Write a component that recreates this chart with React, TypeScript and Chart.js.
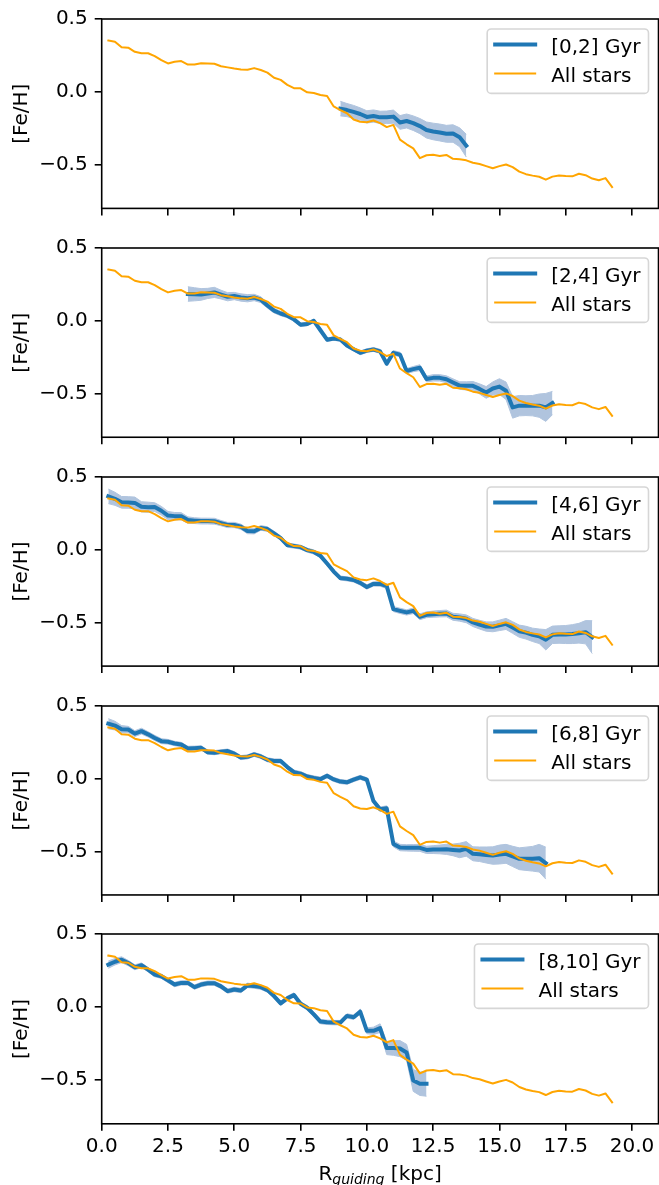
import React, { useEffect, useRef } from 'react';
import { Chart, registerables } from 'chart.js';

Chart.register(...registerables);

// Guiding radius grid (kpc), bin centres
const R_GRID = [
  0.25, 0.5, 0.75, 1.0, 1.25, 1.5, 1.75, 2.0, 2.25, 2.5, 2.75, 3.0, 3.25, 3.5, 3.75, 4.0,
  4.25, 4.5, 4.75, 5.0, 5.25, 5.5, 5.75, 6.0, 6.25, 6.5, 6.75, 7.0, 7.25, 7.5, 7.75, 8.0,
  8.25, 8.5, 8.75, 9.0, 9.25, 9.5, 9.75, 10.0, 10.25, 10.5, 10.75, 11.0, 11.25, 11.5, 11.75, 12.0,
  12.25, 12.5, 12.75, 13.0, 13.25, 13.5, 13.75, 14.0, 14.25, 14.5, 14.75, 15.0, 15.25, 15.5, 15.75, 16.0,
  16.25, 16.5, 16.75, 17.0, 17.25, 17.5, 17.75, 18.0, 18.25, 18.5, 18.75, 19.0, 19.25,
];

// [Fe/H] for all stars
const ALL_STARS = [
  0.352, 0.344, 0.306, 0.303, 0.275, 0.265, 0.265, 0.245, 0.218, 0.195, 0.206, 0.211, 0.187, 0.187, 0.196, 0.195,
  0.193, 0.176, 0.168, 0.160, 0.154, 0.152, 0.163, 0.150, 0.132, 0.097, 0.082, 0.048, 0.025, 0.024, -0.003, -0.008,
  -0.022, -0.028, -0.100, -0.125, -0.147, -0.190, -0.205, -0.209, -0.197, -0.215, -0.242, -0.227, -0.328, -0.360, -0.388, -0.455,
  -0.435, -0.432, -0.440, -0.433, -0.460, -0.463, -0.470, -0.487, -0.495, -0.510, -0.524, -0.510, -0.499, -0.517, -0.548, -0.565,
  -0.575, -0.583, -0.603, -0.582, -0.574, -0.578, -0.580, -0.562, -0.572, -0.595, -0.607, -0.592, -0.653,
];

const AGE_LABELS = ['[0,2] Gyr', '[2,4] Gyr', '[4,6] Gyr', '[6,8] Gyr', '[8,10] Gyr'];
const AGE_R_START = [9.0, 3.25, 0.25, 0.25, 0.25];

const FEH_0_2 = [
  -0.115, -0.125, -0.138, -0.152, -0.172, -0.166, -0.175, -0.175, -0.170, -0.210,
  -0.200, -0.215, -0.235, -0.262, -0.272, -0.279, -0.288, -0.286, -0.312, -0.369,
];
const ERR_0_2 = [
  0.050, 0.045, 0.045, 0.042, 0.042, 0.042, 0.042, 0.043, 0.045, 0.047,
  0.048, 0.050, 0.052, 0.055, 0.057, 0.058, 0.058, 0.060, 0.065, 0.078,
];

const FEH_2_4 = [
  0.184, 0.182, 0.181, 0.188, 0.195, 0.180, 0.165, 0.170, 0.160, 0.155, 0.160, 0.145,
  0.105, 0.070, 0.050, 0.035, 0.010, -0.027, -0.022, 0.000, -0.065, -0.130, -0.122, -0.129,
  -0.170, -0.195, -0.220, -0.205, -0.197, -0.210, -0.295, -0.220, -0.232, -0.345, -0.332, -0.322,
  -0.400, -0.392, -0.392, -0.402, -0.424, -0.445, -0.447, -0.447, -0.468, -0.492, -0.465, -0.452,
  -0.481, -0.595, -0.583, -0.583, -0.583, -0.583, -0.595, -0.565,
];
const ERR_2_4 = [
  0.050, 0.045, 0.040, 0.035, 0.035, 0.030, 0.028, 0.025, 0.025, 0.025, 0.022, 0.020,
  0.018, 0.016, 0.015, 0.014, 0.013, 0.012, 0.012, 0.012, 0.012, 0.012, 0.012, 0.012,
  0.012, 0.012, 0.013, 0.013, 0.013, 0.014, 0.015, 0.015, 0.016, 0.017, 0.018, 0.020,
  0.020, 0.022, 0.022, 0.024, 0.025, 0.026, 0.028, 0.030, 0.035, 0.040, 0.045, 0.054,
  0.060, 0.074, 0.070, 0.068, 0.070, 0.080, 0.096, 0.080,
];

const FEH_4_6 = [
  0.367, 0.350, 0.326, 0.325, 0.322, 0.295, 0.292, 0.293, 0.268, 0.235, 0.231, 0.230,
  0.204, 0.200, 0.197, 0.197, 0.196, 0.183, 0.170, 0.170, 0.158, 0.128, 0.127, 0.150,
  0.142, 0.112, 0.080, 0.032, 0.025, 0.018, -0.003, -0.015, -0.042, -0.095, -0.150, -0.195,
  -0.200, -0.208, -0.228, -0.256, -0.235, -0.235, -0.250, -0.408, -0.420, -0.431, -0.420, -0.461,
  -0.447, -0.443, -0.440, -0.438, -0.461, -0.466, -0.475, -0.500, -0.515, -0.528, -0.530, -0.520,
  -0.510, -0.535, -0.560, -0.570, -0.585, -0.595, -0.619, -0.585, -0.583, -0.583, -0.580, -0.574,
  -0.567, -0.601,
];
const ERR_4_6 = [
  0.050, 0.045, 0.040, 0.040, 0.040, 0.035, 0.035, 0.030, 0.030, 0.028, 0.025, 0.025,
  0.022, 0.020, 0.020, 0.020, 0.020, 0.018, 0.018, 0.018, 0.018, 0.018, 0.018, 0.016,
  0.016, 0.015, 0.015, 0.015, 0.014, 0.014, 0.014, 0.014, 0.014, 0.014, 0.014, 0.014,
  0.014, 0.014, 0.015, 0.015, 0.015, 0.016, 0.016, 0.017, 0.018, 0.018, 0.019, 0.020,
  0.020, 0.021, 0.022, 0.023, 0.024, 0.025, 0.027, 0.028, 0.030, 0.032, 0.034, 0.036,
  0.038, 0.040, 0.042, 0.044, 0.046, 0.050, 0.070, 0.060, 0.060, 0.062, 0.065, 0.068,
  0.080, 0.113,
];

const FEH_6_8 = [
  0.378, 0.365, 0.340, 0.338, 0.310, 0.327, 0.305, 0.280, 0.258, 0.254, 0.242, 0.235,
  0.208, 0.210, 0.212, 0.182, 0.179, 0.185, 0.190, 0.172, 0.145, 0.150, 0.167, 0.153,
  0.130, 0.122, 0.122, 0.080, 0.045, 0.035, 0.015, 0.005, -0.003, 0.020, -0.005, -0.020,
  -0.025, -0.007, 0.009, -0.007, -0.154, -0.211, -0.204, -0.449, -0.474, -0.476, -0.476, -0.476,
  -0.490, -0.488, -0.487, -0.486, -0.490, -0.494, -0.483, -0.517, -0.520, -0.525, -0.529, -0.522,
  -0.517, -0.535, -0.551, -0.551, -0.551, -0.547, -0.581,
];
const ERR_6_8 = [
  0.035, 0.030, 0.025, 0.022, 0.020, 0.020, 0.018, 0.018, 0.017, 0.016, 0.015, 0.015,
  0.015, 0.014, 0.014, 0.014, 0.014, 0.014, 0.014, 0.014, 0.014, 0.014, 0.014, 0.014,
  0.014, 0.014, 0.014, 0.014, 0.014, 0.014, 0.014, 0.014, 0.014, 0.014, 0.014, 0.014,
  0.014, 0.014, 0.014, 0.014, 0.015, 0.016, 0.017, 0.020, 0.022, 0.022, 0.023, 0.024,
  0.025, 0.027, 0.030, 0.035, 0.040, 0.050, 0.050, 0.048, 0.050, 0.055, 0.060, 0.065,
  0.065, 0.070, 0.075, 0.080, 0.085, 0.095, 0.110,
];

const FEH_8_10 = [
  0.290, 0.310, 0.324, 0.301, 0.272, 0.286, 0.256, 0.222, 0.211, 0.182, 0.154, 0.165,
  0.165, 0.136, 0.154, 0.163, 0.163, 0.141, 0.109, 0.120, 0.113, 0.148, 0.143, 0.136,
  0.116, 0.075, 0.025, 0.059, 0.082, 0.022, -0.005, -0.050, -0.100, -0.105, -0.107, -0.107,
  -0.061, -0.070, -0.032, -0.163, -0.163, -0.145, -0.281, -0.281, -0.285, -0.311, -0.503, -0.526,
  -0.526,
];
const ERR_8_10 = [
  0.025, 0.022, 0.020, 0.018, 0.017, 0.016, 0.015, 0.015, 0.015, 0.015, 0.015, 0.015,
  0.015, 0.015, 0.015, 0.015, 0.015, 0.015, 0.015, 0.015, 0.015, 0.015, 0.015, 0.015,
  0.015, 0.015, 0.015, 0.015, 0.015, 0.015, 0.015, 0.015, 0.015, 0.015, 0.015, 0.015,
  0.015, 0.015, 0.018, 0.020, 0.025, 0.030, 0.045, 0.050, 0.055, 0.055, 0.075, 0.080,
  0.085,
];

const AGE_FEH = [FEH_0_2, FEH_2_4, FEH_4_6, FEH_6_8, FEH_8_10];
const AGE_ERR = [ERR_0_2, ERR_2_4, ERR_4_6, ERR_6_8, ERR_8_10];

const X_TICKS = [0, 2.5, 5, 7.5, 10, 12.5, 15, 17.5, 20];
const Y_TICKS = [-0.5, 0, 0.5];
const X_RANGE = [0, 21];
const Y_RANGE = [-0.8, 0.5];

const FONT = '"DejaVu Sans", sans-serif';
const BLUE = '#1f77b4';
const ORANGE = '#ffa500';
const BAND = '#b0c4de';

const W = 659;
const PLOT_LEFT = 101.7;
const PLOT_RIGHT_PAD = 0.5;
const PLOT_H = 191.5;
const PANEL_TOP0 = 16.9;
const PANEL_STEP = 228.85;

const fmtY = (v: number) => (v < 0 ? '\u2212' : '') + Math.abs(v).toFixed(1);

function Panel({ index, canvasTop, height, padTop, showX }: any) {
  const ref = useRef<HTMLCanvasElement | null>(null);
  useEffect(() => {
    const canvas = ref.current;
    if (!canvas) return;
    const start = R_GRID.indexOf(AGE_R_START[index]);
    const vals = AGE_FEH[index];
    const errs = AGE_ERR[index];
    const agePts = vals.map((v, i) => ({ x: R_GRID[start + i], y: v }));
    const upPts = vals.map((v, i) => ({ x: R_GRID[start + i], y: v + errs[i] }));
    const loPts = vals.map((v, i) => ({ x: R_GRID[start + i], y: v - errs[i] }));
    const allPts = ALL_STARS.map((v, i) => ({ x: R_GRID[i], y: v }));
    const label = AGE_LABELS[index];

    const decor = {
      id: 'decor',
      afterDraw(chart: any) {
        const { ctx, chartArea: a } = chart;
        ctx.save();
        ctx.strokeStyle = '#000';
        ctx.lineWidth = 1.6;
        ctx.strokeRect(a.left, a.top, a.right - a.left, a.bottom - a.top);
        // legend
        ctx.font = `20px ${FONT}`;
        const tw = Math.max(ctx.measureText(label).width, ctx.measureText('All stars').width);
        const w = 64 + tw + 8;
        const h = 64.4;
        const x1 = a.right - 10;
        const x0 = x1 - w;
        const y0 = a.top + 10;
        const r = 4;
        ctx.beginPath();
        ctx.moveTo(x0 + r, y0);
        ctx.lineTo(x1 - r, y0);
        ctx.arcTo(x1, y0, x1, y0 + r, r);
        ctx.lineTo(x1, y0 + h - r);
        ctx.arcTo(x1, y0 + h, x1 - r, y0 + h, r);
        ctx.lineTo(x0 + r, y0 + h);
        ctx.arcTo(x0, y0 + h, x0, y0 + h - r, r);
        ctx.lineTo(x0, y0 + r);
        ctx.arcTo(x0, y0, x0 + r, y0, r);
        ctx.closePath();
        ctx.fillStyle = 'rgba(255,255,255,0.8)';
        ctx.fill();
        ctx.strokeStyle = '#d6d6d6';
        ctx.lineWidth = 1.6;
        ctx.stroke();
        ctx.lineCap = 'square';
        ctx.strokeStyle = BLUE;
        ctx.lineWidth = 4;
        ctx.beginPath();
        ctx.moveTo(x0 + 8, y0 + 15.4);
        ctx.lineTo(x0 + 48, y0 + 15.4);
        ctx.stroke();
        ctx.strokeStyle = ORANGE;
        ctx.lineWidth = 2;
        ctx.beginPath();
        ctx.moveTo(x0 + 8, y0 + 44.4);
        ctx.lineTo(x0 + 48, y0 + 44.4);
        ctx.stroke();
        ctx.fillStyle = '#000';
        ctx.textAlign = 'left';
        ctx.textBaseline = 'alphabetic';
        ctx.fillText(label, x0 + 64, y0 + 23.7);
        ctx.fillText('All stars', x0 + 64, y0 + 52.7);
        ctx.restore();
      },
    };

    const tickGrid = {
      display: true,
      drawOnChartArea: false,
      drawTicks: true,
      tickLength: 7,
      color: '#000',
      lineWidth: 1.6,
    };

    const chart = new Chart(canvas, {
      type: 'line',
      data: {
        datasets: [
          {
            label: 'All stars',
            data: allPts,
            borderColor: ORANGE,
            borderWidth: 2,
            pointRadius: 0,
            fill: false,
            tension: 0,
            borderJoinStyle: 'round',
            borderCapStyle: 'square',
          },
          {
            label,
            data: agePts,
            borderColor: BLUE,
            borderWidth: 4,
            pointRadius: 0,
            fill: false,
            tension: 0,
            borderJoinStyle: 'round',
            borderCapStyle: 'square',
          },
          {
            label: 'upper',
            data: upPts,
            borderColor: BAND,
            borderWidth: 1,
            pointRadius: 0,
            fill: false,
            tension: 0,
          },
          {
            label: 'lower',
            data: loPts,
            borderColor: BAND,
            backgroundColor: BAND,
            borderWidth: 1,
            pointRadius: 0,
            fill: '-1',
            tension: 0,
          },
        ],
      } as any,
      options: {
        animation: false,
        responsive: false,
        maintainAspectRatio: false,
        devicePixelRatio: 1,
        events: [],
        layout: { padding: { top: padTop, right: PLOT_RIGHT_PAD, bottom: 0, left: 0 } },
        plugins: {
          legend: { display: false },
          tooltip: { enabled: false },
          title: { display: false },
        },
        scales: {
          x: {
            type: 'linear',
            min: X_RANGE[0],
            max: X_RANGE[1],
            afterBuildTicks: (s: any) => {
              s.ticks = X_TICKS.map((v) => ({ value: v }));
            },
            afterFit: (s: any) => {
              s.height = height - padTop - PLOT_H;
            },
            grid: tickGrid,
            border: { display: false },
            ticks: {
              display: showX,
              autoSkip: false,
              maxRotation: 0,
              minRotation: 0,
              padding: 4,
              color: '#000',
              font: { family: FONT, size: 20 },
              callback: (v: any) => Number(v).toFixed(1),
            },
          },
          y: {
            type: 'linear',
            min: Y_RANGE[0],
            max: Y_RANGE[1],
            afterBuildTicks: (s: any) => {
              s.ticks = Y_TICKS.map((v) => ({ value: v }));
            },
            afterFit: (s: any) => {
              s.width = PLOT_LEFT;
            },
            grid: tickGrid,
            border: { display: false },
            ticks: {
              padding: 7,
              color: '#000',
              font: { family: FONT, size: 20 },
              callback: (v: any) => fmtY(Number(v)),
            },
            title: {
              display: true,
              text: '[Fe/H]',
              color: '#000',
              font: { family: FONT, size: 20 },
              padding: { top: 9.5, bottom: 0 },
            },
          },
        },
      } as any,
      plugins: [decor],
    });
    return () => chart.destroy();
  }, [index, height, padTop, showX]);

  return (
    <canvas
      ref={ref}
      width={W}
      height={height}
      style={{ position: 'absolute', left: 0, top: canvasTop, width: W, height, display: 'block' }}
    />
  );
}

export default function App() {
  const panels = AGE_LABELS.map((_, i) => {
    const plotTop = PANEL_TOP0 + PANEL_STEP * i;
    const canvasTop = Math.round(PANEL_STEP * i);
    const nextTop = i < AGE_LABELS.length - 1 ? Math.round(PANEL_STEP * (i + 1)) : 1185;
    return { i, canvasTop, height: nextTop - canvasTop, padTop: plotTop - canvasTop };
  });
  return (
    <div style={{ position: 'absolute', left: 0, top: 0, width: W, height: 1185, background: '#fff', overflow: 'hidden' }}>
      {panels.map((p) => (
        <Panel
          key={p.i}
          index={p.i}
          canvasTop={p.canvasTop}
          height={p.height}
          padTop={p.padTop}
          showX={p.i === AGE_LABELS.length - 1}
        />
      ))}
      <div
        style={{
          position: 'absolute',
          left: PLOT_LEFT,
          width: W - PLOT_RIGHT_PAD - PLOT_LEFT,
          top: 1163,
          textAlign: 'center',
          fontFamily: FONT,
          fontSize: 20,
          lineHeight: '20px',
          color: '#000',
          whiteSpace: 'nowrap',
        }}
      >
        R
        <span style={{ fontSize: 14, fontStyle: 'italic', position: 'relative', top: 4 }}>guiding</span>
        {' [kpc]'}
      </div>
    </div>
  );
}
